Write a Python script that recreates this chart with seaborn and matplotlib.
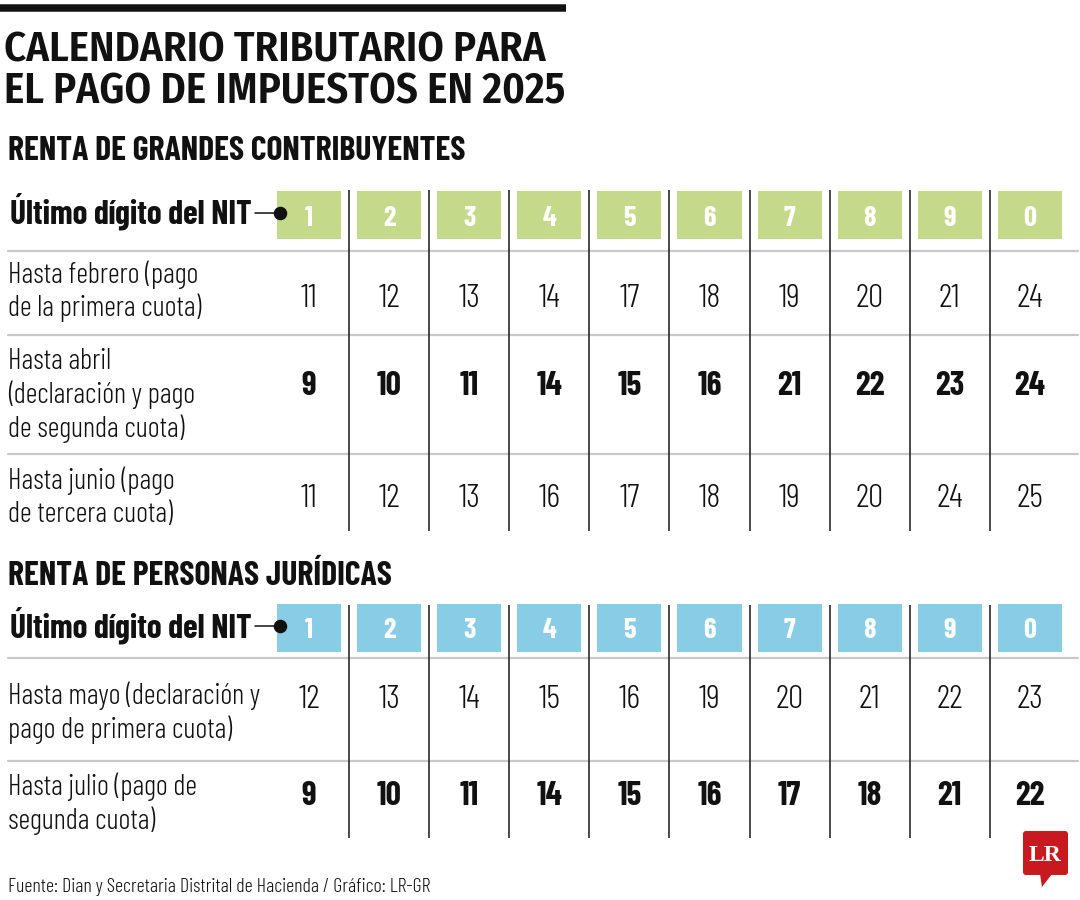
import math
import matplotlib
matplotlib.use("Agg")
import matplotlib.pyplot as plt
import matplotlib.transforms as mtransforms
from matplotlib import font_manager
from matplotlib.font_manager import FontProperties
from matplotlib.textpath import TextPath
from matplotlib.patches import FancyBboxPatch, Polygon
import seaborn as sns

# ---------------- data ----------------
digits = ["1", "2", "3", "4", "5", "6", "7", "8", "9", "0"]

grandes_labels = [
    "Hasta febrero (pago\nde la primera cuota)",
    "Hasta abril\n(declaración y pago\nde segunda cuota)",
    "Hasta junio (pago\nde tercera cuota)",
]
grandes_feb = [11, 12, 13, 14, 17, 18, 19, 20, 21, 24]
grandes_abr = [9, 10, 11, 14, 15, 16, 21, 22, 23, 24]
grandes_jun = [11, 12, 13, 16, 17, 18, 19, 20, 24, 25]

juridicas_labels = [
    "Hasta mayo (declaración y\npago de primera cuota)",
    "Hasta julio (pago de\nsegunda cuota)",
]
juridicas_may = [12, 13, 14, 15, 16, 19, 20, 21, 22, 23]
juridicas_jul = [9, 10, 11, 14, 15, 16, 17, 18, 21, 22]

title_lines = ["CALENDARIO TRIBUTARIO PARA", "EL PAGO DE IMPUESTOS EN 2025"]
section1 = "RENTA DE GRANDES CONTRIBUYENTES"
section2 = "RENTA DE PERSONAS JURÍDICAS"
nit_label = "Último dígito del NIT"
source = "Fuente: Dian y Secretaria Distrital de Hacienda / Gráfico: LR-GR"

# ---------------- fonts ----------------
sns.set_theme(style="white")
WEIGHTS = {}
for f in font_manager.fontManager.ttflist:
    try:
        WEIGHTS.setdefault(f.name, set()).add(int(f.weight))
    except (TypeError, ValueError):
        pass


def metrics(name, weight, sample):
    fp = FontProperties(family=[name], weight=weight)
    w = TextPath((0, 0), sample, size=100, prop=fp).get_extents().width / 100
    h = TextPath((0, 0), "H", size=100, prop=fp).get_extents().height / 100
    return w, h


def choose(cands, weight, lo, hi, sample, target_ratio):
    best, best_err = None, 1e9
    for name in cands:
        ws = WEIGHTS.get(name, set())
        if not any(lo <= w <= hi for w in ws):
            continue
        try:
            w, h = metrics(name, weight, sample)
        except Exception:
            continue
        if h <= 0:
            continue
        err = abs(math.log((w / h) / target_ratio))
        if err < best_err - 0.02:
            best, best_err = name, err
    return best or "DejaVu Sans"


HUMANIST = ["Fira Sans Extra Condensed", "Fira Sans Condensed", "Sofia Sans Extra Condensed",
            "Sofia Sans Condensed", "Barlow Condensed", "Barlow Semi Condensed",
            "Roboto Condensed", "PT Sans Narrow", "Archivo Narrow", "Asap Condensed",
            "IBM Plex Sans Condensed", "Encode Sans Condensed", "Cabin Condensed",
            "Ubuntu Condensed", "Open Sans Condensed", "Pragati Narrow",
            "Liberation Sans Narrow"]

BODY = choose(HUMANIST, 400, 300, 450, "Hasta mayo (declaración y", 250 / 20.5)
HEAD = choose(HUMANIST, 700, 650, 800, section1, 455 / 24.0)
TITLE = choose(["Fira Sans Condensed", "Barlow Semi Condensed", "Roboto Condensed",
                "Asap Condensed", "IBM Plex Sans Condensed", "PT Sans Narrow",
                "Fira Sans Extra Condensed"], 600, 550, 750, title_lines[0], 541 / 29.0)
BODY_BOLD = BODY if any(w >= 650 for w in WEIGHTS.get(BODY, ())) else HEAD
BODY_W = 300 if 300 in WEIGHTS.get(BODY, ()) else 400


def fam(name):
    return [name, "DejaVu Sans"]


def size_for_width(name, weight, sample, px):
    w, _ = metrics(name, weight, sample)
    return px / w * 0.72


def size_for_cap(name, weight, px):
    _, h = metrics(name, weight, "H")
    return px / h * 0.72


plt.rcParams["font.family"] = fam(BODY)

FS_TITLE = [size_for_width(TITLE, 600, s, w) for s, w in zip(title_lines, [541, 558])]
FS_HEAD = size_for_width(HEAD, 700, section1, 455)
FS_NIT = size_for_width(HEAD, 700, nit_label, 240)
FS_BOXDIGIT = size_for_cap(HEAD, 700, 20)
FS_BODY = size_for_width(BODY, BODY_W, "Hasta mayo (declaración y", 250)
FS_NUM = size_for_cap(BODY, BODY_W, 23.5)
FS_NUMB = size_for_cap(BODY_BOLD, 700, 23.5)
FS_SRC = size_for_width(BODY, BODY_W, source, 420)

GREEN = "#c5d98b"
BLUE = "#88cde5"
SEP = "#c9c9c9"
VLINE = "#2b2b2b"
INK = "#111111"

W, H = 1080, 900
fig = plt.figure(figsize=(W / 100, H / 100), dpi=100)
ax = fig.add_axes([0, 0, 1, 1])
ax.set_axis_off()

# column scale: x in column units, y in pixels from top
C0, PITCH = 309.0, 80.1
ax.set_xlim(-C0 / PITCH, (W - C0) / PITCH)
ax.set_ylim(H, 0)
cols = list(range(len(digits)))
xpx = mtransforms.blended_transform_factory(
    mtransforms.Affine2D().scale(1 / W, 1) + fig.transFigure, ax.transData)

# top bar
ax.plot([0, 566], [7.5, 7.5], transform=xpx, color=INK, lw=5.4, solid_capstyle="butt")

# title
for line, base, fs in zip(title_lines, [62, 103], FS_TITLE):
    ax.text(4, base, line, transform=xpx, fontsize=fs, fontweight=600,
            family=fam(TITLE), color=INK, va="baseline")


def table(heading, head_base, box_top, color, sep_ys, v_top, v_bot,
          labels, label_bases, rows, num_bases, bold_rows):
    ax.text(8, head_base, heading, transform=xpx, fontsize=FS_HEAD, fontweight="bold",
            family=fam(HEAD), color=INK, va="baseline")
    # header cells
    ax.bar(cols, 48, bottom=box_top, width=0.8, color=color, linewidth=0, zorder=2)
    for i, d in enumerate(digits):
        ax.text(i, box_top + 34.5, d, ha="center", va="baseline", fontsize=FS_BOXDIGIT,
                fontweight="bold", color="white", family=fam(HEAD), zorder=3)
    ax.text(10, box_top + 33, nit_label, transform=xpx, fontsize=FS_NIT,
            fontweight="bold", family=fam(HEAD), color=INK, va="baseline")
    cy = box_top + 22
    ax.plot([255, 280], [cy, cy], transform=xpx, color=INK, lw=1.1)
    sns.scatterplot(x=[280], y=[cy], ax=ax, color=INK, s=95, linewidth=0,
                    transform=xpx, zorder=4, legend=False)
    # separators
    for y in sep_ys:
        ax.plot([8, 1078], [y, y], transform=xpx, color=SEP, lw=1.6, zorder=1)
    # vertical dividers
    ax.vlines([c + 0.5 for c in cols[:-1]], v_top, v_bot, color=VLINE, lw=1.2, zorder=1)
    # row labels
    for lab, bases in zip(labels, label_bases):
        for line, b in zip(lab.split("\n"), bases):
            ax.text(8, b, line, transform=xpx, fontsize=FS_BODY, fontweight=BODY_W,
                    family=fam(BODY), color=INK, va="baseline")
    # values
    for r, (vals, base) in enumerate(zip(rows, num_bases)):
        bold = r in bold_rows
        for i, v in enumerate(vals):
            ax.text(i, base, str(v), ha="center", va="baseline",
                    fontsize=FS_NUMB if bold else FS_NUM,
                    fontweight="bold" if bold else BODY_W,
                    family=fam(BODY_BOLD if bold else BODY), color=INK)


table(section1, 160, 191, GREEN, [251, 335, 454], 190, 531,
      grandes_labels, [[283, 316], [369, 403, 437], [489, 522]],
      [grandes_feb, grandes_abr, grandes_jun], [307, 395, 507], {1})

table(section2, 585, 604, BLUE, [658, 761], 605, 838,
      juridicas_labels, [[704, 738], [795, 829]],
      [juridicas_may, juridicas_jul], [708, 805], {1})

# footer
ax.text(8, 892, source, transform=xpx, fontsize=FS_SRC, fontweight=BODY_W,
        family=fam(BODY), color=INK, va="baseline")

# LR logo
RED = "#c8191f"
logo = FancyBboxPatch((1023, 831), 45, 44, boxstyle="round,pad=0,rounding_size=3",
                      transform=xpx, facecolor=RED, edgecolor="none", zorder=5)
ax.add_patch(logo)
tail = Polygon([[1040, 874], [1052, 874], [1042, 887]], closed=True,
               transform=xpx, facecolor=RED, edgecolor="none", zorder=5)
ax.add_patch(tail)
ax.text(1045.5, 861, "LR", transform=xpx, ha="center", va="baseline", fontsize=17,
        fontweight="bold", color="white", family=["Liberation Serif", "DejaVu Serif"],
        zorder=6)

fig.savefig("out.png", dpi=100, facecolor="white")
